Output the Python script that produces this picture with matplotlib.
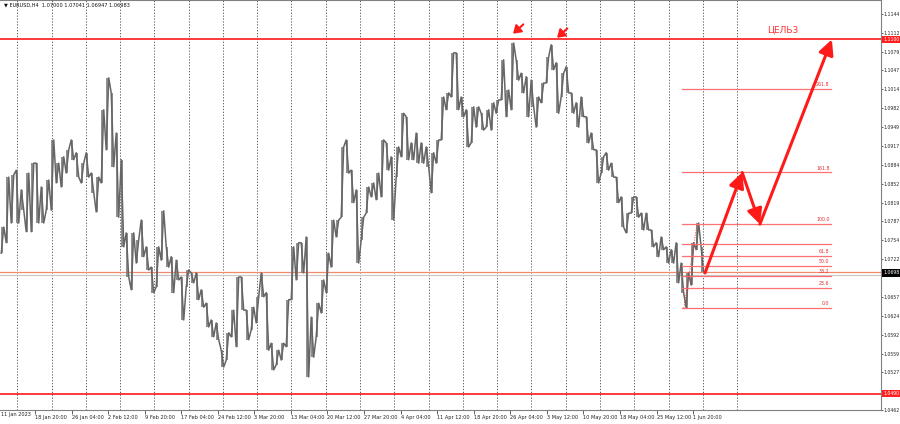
import numpy as np
import matplotlib.pyplot as plt
from matplotlib.transforms import blended_transform_factory

# EURUSD H4, 11 Jan - 2 Jun 2023: high / low of each block of ~4.4 bars
hi = [1.0777, 1.0863, 1.0867, 1.0875, 1.0841, 1.0870, 1.0887, 1.0887, 1.0846, 1.0858,
      1.0927, 1.0887, 1.0898, 1.0910, 1.0927, 1.0905, 1.0887, 1.0905, 1.0870, 1.0863,
      1.0979, 1.1034, 1.1008, 1.0939, 1.0893, 1.0767, 1.0767, 1.0755, 1.0789, 1.0743,
      1.0708, 1.0743, 1.0805, 1.0743, 1.0726, 1.0720, 1.0691, 1.0703, 1.0698, 1.0698,
      1.0669, 1.0646, 1.0617, 1.0612, 1.0565, 1.0595, 1.0634, 1.0691, 1.0691, 1.0634,
      1.0639, 1.0657, 1.0698, 1.0664, 1.0577, 1.0565, 1.0577, 1.0652, 1.0743, 1.0750,
      1.0750, 1.0760, 1.0622, 1.0646, 1.0686, 1.0732, 1.0789, 1.0789, 1.0915, 1.0927,
      1.0875, 1.0841, 1.0794, 1.0846, 1.0853, 1.0870, 1.0927, 1.0922, 1.0898, 1.0915,
      1.0973, 1.0967, 1.0922, 1.0939, 1.0922, 1.0915, 1.0905, 1.0927, 1.1001, 1.1008,
      1.1077, 1.1077, 1.1001, 1.0979, 1.0984, 1.0984, 1.0973, 1.0979, 1.0991, 1.0996,
      1.1065, 1.1013, 1.1094, 1.1065, 1.1042, 1.1036, 1.1030, 1.1001, 1.1025, 1.1070,
      1.1091, 1.1060, 1.1042, 1.1053, 1.1008, 1.0991, 1.1001, 1.0967, 1.0939, 1.0910,
      1.0898, 1.0905, 1.0887, 1.0863, 1.0829, 1.0801, 1.0829, 1.0829, 1.0801, 1.0801,
      1.0772, 1.0750, 1.0760, 1.0743, 1.0738, 1.0750, 1.0715, 1.0698, 1.0750, 1.0784,
      1.0743]
lo = [1.0732, 1.0750, 1.0784, 1.0784, 1.0806, 1.0769, 1.0769, 1.0784, 1.0784, 1.0806,
      1.0806, 1.0853, 1.0846, 1.0870, 1.0893, 1.0863, 1.0853, 1.0863, 1.0836, 1.0803,
      1.0853, 1.0910, 1.0881, 1.0794, 1.0743, 1.0691, 1.0669, 1.0715, 1.0726, 1.0703,
      1.0664, 1.0674, 1.0720, 1.0708, 1.0664, 1.0686, 1.0617, 1.0674, 1.0681, 1.0652,
      1.0639, 1.0605, 1.0588, 1.0583, 1.0536, 1.0548, 1.0588, 1.0571, 1.0634, 1.0583,
      1.0600, 1.0612, 1.0657, 1.0565, 1.0531, 1.0540, 1.0548, 1.0571, 1.0652, 1.0686,
      1.0698, 1.0519, 1.0553, 1.0588, 1.0629, 1.0664, 1.0708, 1.0760, 1.0794, 1.0870,
      1.0819, 1.0715, 1.0755, 1.0801, 1.0829, 1.0824, 1.0829, 1.0875, 1.0789, 1.0863,
      1.0898, 1.0893, 1.0893, 1.0887, 1.0887, 1.0881, 1.0836, 1.0887, 1.0927, 1.0979,
      1.1001, 1.0979, 1.0967, 1.0915, 1.0922, 1.0949, 1.0944, 1.0949, 1.0944, 1.0973,
      1.0996, 1.0967, 1.0979, 1.1030, 1.1008, 1.0967, 1.0984, 1.0949, 1.0991, 1.1025,
      1.1048, 1.0973, 1.1001, 1.1008, 1.0973, 1.0949, 1.0967, 1.0922, 1.0910, 1.0853,
      1.0870, 1.0875, 1.0863, 1.0819, 1.0777, 1.0767, 1.0801, 1.0794, 1.0772, 1.0772,
      1.0743, 1.0726, 1.0738, 1.0715, 1.0715, 1.0681, 1.0664, 1.0638, 1.0677, 1.0738,
      1.0700]

date_labels = ["11 Jan 2023", "18 Jan 20:00", "26 Jan 04:00", "2 Feb 12:00", "9 Feb 20:00",
               "17 Feb 04:00", "24 Feb 12:00", "3 Mar 20:00", "13 Mar 04:00", "20 Mar 12:00",
               "27 Mar 20:00", "4 Apr 04:00", "11 Apr 12:00", "18 Apr 20:00", "26 Apr 04:00",
               "3 May 12:00", "10 May 20:00", "18 May 04:00", "25 May 12:00", "1 Jun 20:00"]
# scale labels (the ones hidden under the price boxes left out)
price_ticks = [1.1144, 1.1112, 1.1079, 1.1047, 1.1014, 1.0982, 1.0949, 1.0917, 1.0884, 1.0852,
               1.0819, 1.0787, 1.0754, 1.0722, 1.0657, 1.0624, 1.0592, 1.0559, 1.0527,
               1.0462]

resistance = 1.1100
support = 1.0490
last_price = 1.0698
fib_low, fib_high = 1.0638, 1.0782
fib_levels = [0.0, 23.6, 38.2, 50.0, 61.8, 76.4, 100.0, 161.8, 261.8]
fib_labeled = [True, True, True, True, True, False, True, True, True]

FS = 3.6
bars_per_sample = 4.375
x = (np.arange(len(hi)) + 0.5) * bars_per_sample
hi = np.array(hi)
lo = np.array(lo)
mid = (hi + lo) / 2

fig = plt.figure(figsize=(9, 4.24), dpi=100)
ax = fig.add_axes([0, 14 / 424, 881 / 900, 410 / 424])
ax.set_xlim(0, 771)
ax.set_ylim(1.0462, 1.1168)

# weekly grid
for k in range(22):
    ax.axvline(15.1 + 30 * k, color='#444444', lw=0.6, ls=(0, (1.5, 2.0)), zorder=0)

# price: zigzag through each block's extremes
px, pp = [], []
for i in range(len(hi)):
    prev_m = mid[max(i - 1, 0)]
    next_m = mid[min(i + 1, len(hi) - 1)]
    a, b = (lo[i], hi[i]) if next_m >= prev_m else (hi[i], lo[i])
    px += [x[i] - 1.1, x[i] + 1.1]
    pp += [a, b]
ax.vlines(x, lo, hi, color='#7a7a7a', lw=1.2, zorder=2)
ax.plot(px, pp, color='#666666', lw=1.1, zorder=2)

# levels
ax.axhline(resistance, color='#ff2a2a', lw=1.3, zorder=3)
ax.axhline(support, color='#ff2a2a', lw=1.3, zorder=3)
ax.axhline(1.0700, color='#f08a6a', lw=0.9, zorder=1)
ax.axhline(last_price - 0.0003, color='#c8c8c8', lw=0.8, zorder=1)

# fibo grid
fib_x0, fib_x1 = 597, 727
for lev, lab in zip(fib_levels, fib_labeled):
    p = fib_low + (fib_high - fib_low) * lev / 100
    ax.plot([fib_x0, fib_x1], [p, p], color='#ff7070', lw=0.9, zorder=3)
    if lab:
        ax.text(fib_x1 - 1, p + 0.0003, f"{lev:.1f}", color='#e03030', fontsize=3.4,
                ha='right', va='bottom', zorder=4)
ax.plot([598.5, 610], [fib_low, fib_high], color='#ff3030', lw=0.7, ls=(0, (1, 1.5)), zorder=3)

# projected path
path_x = [617, 649.5, 665, 728]
path_p = [last_price, fib_low + (fib_high - fib_low) * 1.618, fib_high, resistance]
for i in range(3):
    ax.annotate('', xy=(path_x[i + 1], path_p[i + 1]), xytext=(path_x[i], path_p[i]),
                arrowprops=dict(arrowstyle='-|>,head_length=0.9,head_width=0.45',
                                color='#ff1a1a', lw=2.2, shrinkA=0, shrinkB=0), zorder=5)
ax.text(685, 1.1117, "ЦЕЛЬ3", color='#ff3030', fontsize=6.5, ha='center', va='center')

# pointers at the two tops
tops = [(449, 1.1110), (487.5, 1.1103)]
for tx, tp in tops:
    ax.annotate('', xy=(tx, tp), xytext=(tx + 9, tp + 0.0016),
                arrowprops=dict(arrowstyle='-|>,head_length=0.45,head_width=0.3',
                                color='#ff1a1a', lw=1.5, shrinkA=0, shrinkB=0), zorder=5)

# axes look
ax.spines['left'].set_visible(False)
for s in ['top', 'right', 'bottom']:
    ax.spines[s].set_color('#808080')
    ax.spines[s].set_linewidth(0.8)

ax.yaxis.tick_right()
ax.set_yticks(price_ticks)
ax.set_yticklabels([f"{t:.4f}" for t in price_ticks])
ax.tick_params(axis='y', length=1.5, width=0.5, pad=0.5, labelsize=3.3, colors='#222222')

tick_bars = [32 * k - 1.4 for k in range(1, len(date_labels))]
ax.set_xticks(tick_bars)
ax.set_xticklabels(date_labels[1:], ha='left')
ax.tick_params(axis='x', length=3, width=0.5, pad=0.5, labelsize=FS, colors='#222222')
ax.text(0.5, -0.006, date_labels[0], transform=ax.get_xaxis_transform(), ha='left', va='top',
        fontsize=FS, color='#222222')

# right-side price boxes
tr = blended_transform_factory(ax.transAxes, ax.transData)
for p, fc in [(resistance, '#ff2020'), (support, '#ff2020'), (last_price, '#000000')]:
    ax.text(1.003, p, f"{p:.4f}", transform=tr, ha='left', va='center', color='white',
            fontsize=3.3, clip_on=False, zorder=6,
            bbox=dict(boxstyle='square,pad=0.25', fc=fc, ec='none'))

ax.text(0.004, 0.993, "▼ EURUSD,H4  1.07000 1.07041 1.06947 1.06983", transform=ax.transAxes,
        ha='left', va='top', fontsize=FS, color='#111111')

fig.savefig('out.png', dpi=100)
